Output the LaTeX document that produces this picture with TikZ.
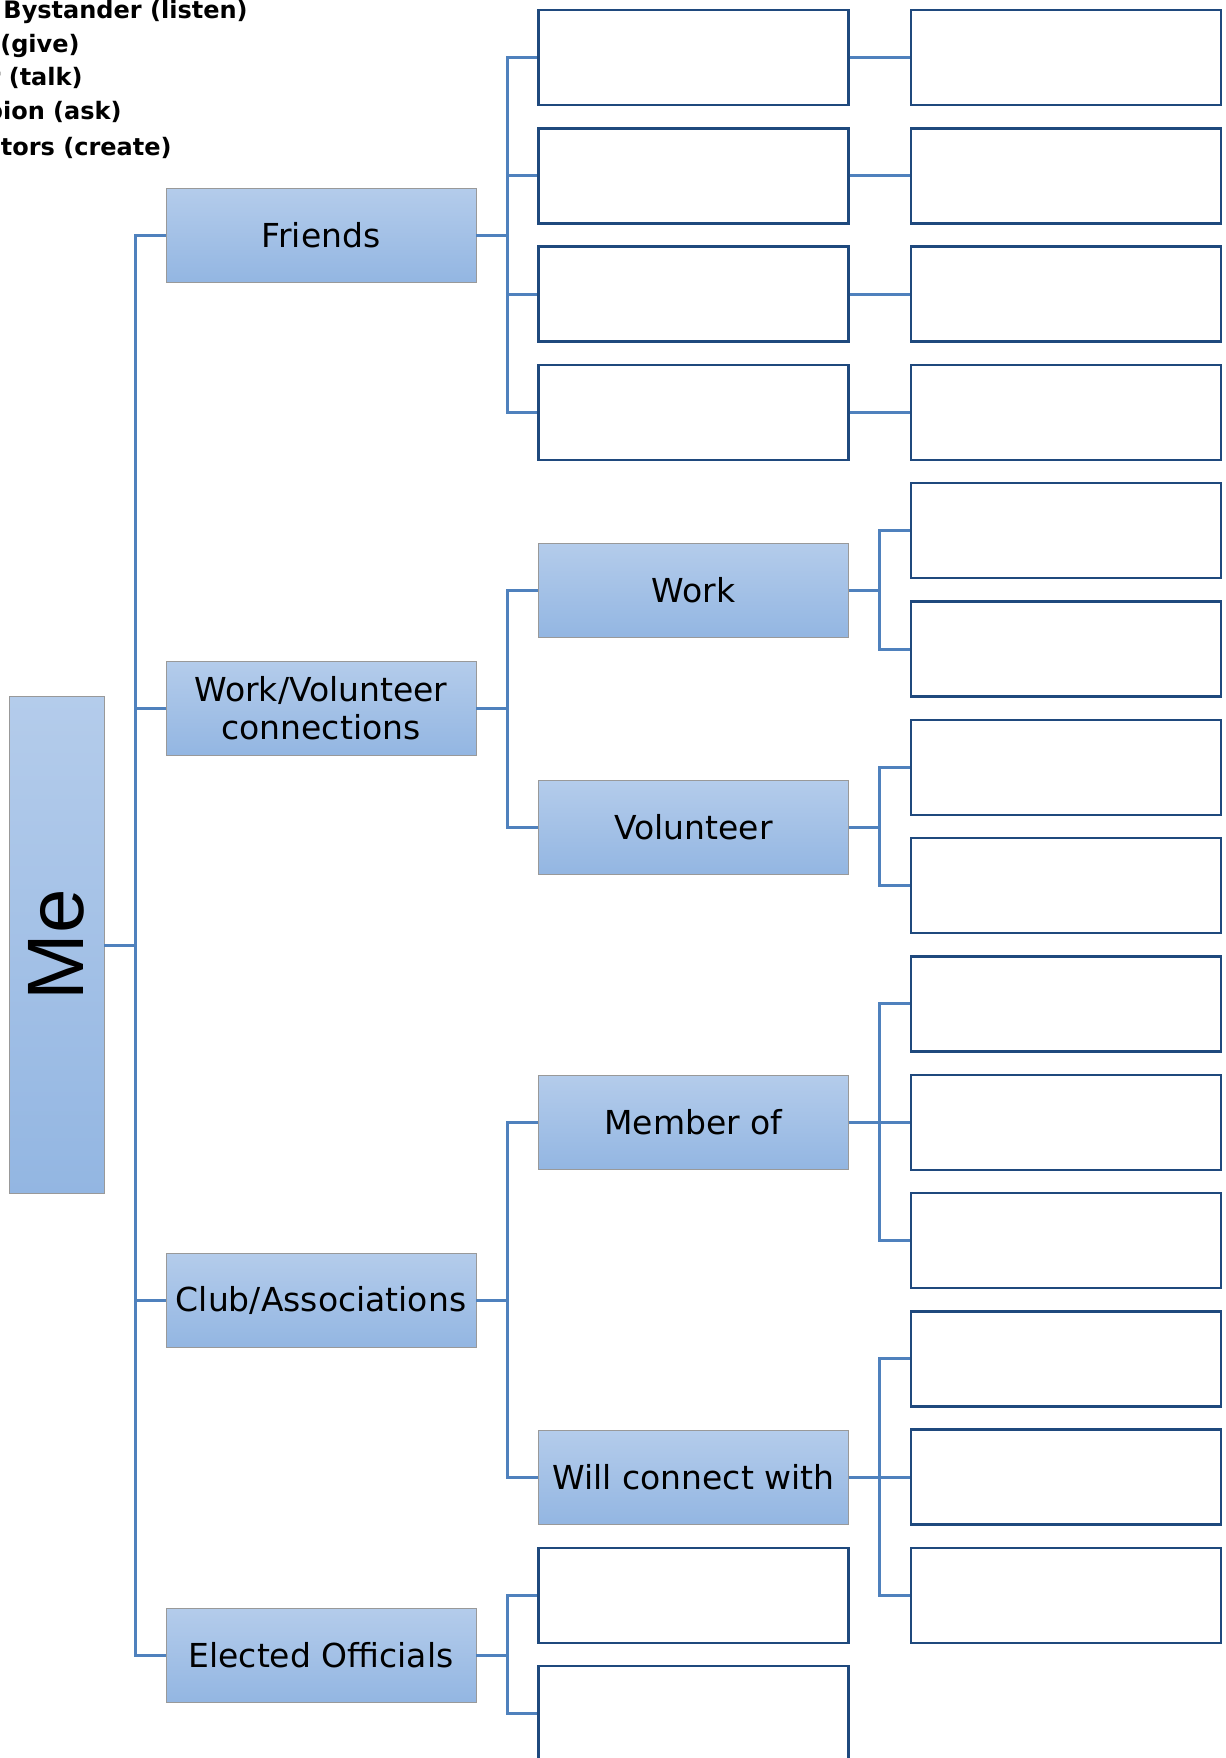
\documentclass[tikz,border=0pt]{standalone}
\usepackage{fontspec}
\setmainfont{DejaVu Sans}
\newfontfamily\mefont{Liberation Sans}
\usepackage{graphicx}
\usepackage{xcolor}
\usetikzlibrary{positioning, calc}
\definecolor{linkblue}{RGB}{79,129,189}
\definecolor{boxedge}{RGB}{31,73,125}
\definecolor{shadetop}{RGB}{180,204,235}
\definecolor{shadebot}{RGB}{147,182,226}

\begin{document}
\begin{tikzpicture}[x=0.5pt, y=-0.5pt,
    topic/.style={rectangle, draw=gray!80, top color=shadetop, bottom color=shadebot, minimum width=155pt, minimum height=47pt, inner sep=0pt, align=center, font=\fontsize{16.5}{19}\selectfont},
    blank/.style={rectangle, draw=boxedge, line width=1.2pt, fill=white, minimum width=155pt, minimum height=47.5pt},
    link/.style={draw=linkblue, line width=1.5pt},
    note/.style={anchor=east, inner sep=0pt, font=\bfseries\fontsize{12}{14}\selectfont}
]

\path[use as bounding box, clip] (0,0) rectangle (1226,1758);

% Legend (cut at the page edge)
\node[note] (n1) at (248,12) {Bystander (listen)};
\node[note] (n2) at (80,46) {(give)};
\node[note] (n3) at (83,78) {r (talk)};
\node[note] (n4) at (122,113) {pion (ask)};
\node[note] (n5) at (172,148) {tors (create)};

% Me
\node[topic, minimum width=47.5pt, minimum height=248.5pt] (me) at (56.5,945) {\mefont\fontsize{40}{40}\selectfont\rotatebox{90}{Me}};

% First level
\node[topic] (friends) at (321,235) {Friends};
\node[topic] (workvol) at (321,708) {Work/Volunteer\\connections};
\node[topic] (club) at (321,1300) {Club/Associations};
\node[topic] (elected) at (321,1655) {Elected Officials};

% Second level
\foreach \i in {0,...,3}
    \node[blank] (f\i) at (693.5,{57.5+118.3*\i}) {};
\node[topic] (work) at (693.5,590) {Work};
\node[topic] (vol) at (693.5,827) {Volunteer};
\node[topic] (member) at (693.5,1122) {Member of};
\node[topic] (will) at (693.5,1477) {Will connect with};
\foreach \i/\r in {1/13,2/14}
    \node[blank] (e\i) at (693.5,{57.5+118.3*\r}) {};

% Third level
\foreach \r in {0,...,13}
    \node[blank] (c\r) at (1066,{57.5+118.3*\r}) {};

% Connections from Me
\foreach \n in {friends,workvol,club,elected}
    \draw[link] (me.east) -- ++(31,0) |- (\n.west);

% Connections from Friends
\foreach \i in {0,...,3} {
    \draw[link] (friends.east) -- ++(31,0) |- (f\i.west);
    \draw[link] (f\i.east) -- (c\i.west);
}

% Connections from Work/Volunteer
\foreach \n in {work,vol}
    \draw[link] (workvol.east) -- ++(31,0) |- (\n.west);
\foreach \r in {4,5}
    \draw[link] (work.east) -- ++(31,0) |- (c\r.west);
\foreach \r in {6,7}
    \draw[link] (vol.east) -- ++(31,0) |- (c\r.west);

% Connections from Club/Associations
\foreach \n in {member,will}
    \draw[link] (club.east) -- ++(31,0) |- (\n.west);
\foreach \r in {8,9,10}
    \draw[link] (member.east) -- ++(31,0) |- (c\r.west);
\foreach \r in {11,12,13}
    \draw[link] (will.east) -- ++(31,0) |- (c\r.west);

% Connections from Elected Officials
\foreach \n in {e1,e2}
    \draw[link] (elected.east) -- ++(31,0) |- (\n.west);

\end{tikzpicture}
\end{document}
